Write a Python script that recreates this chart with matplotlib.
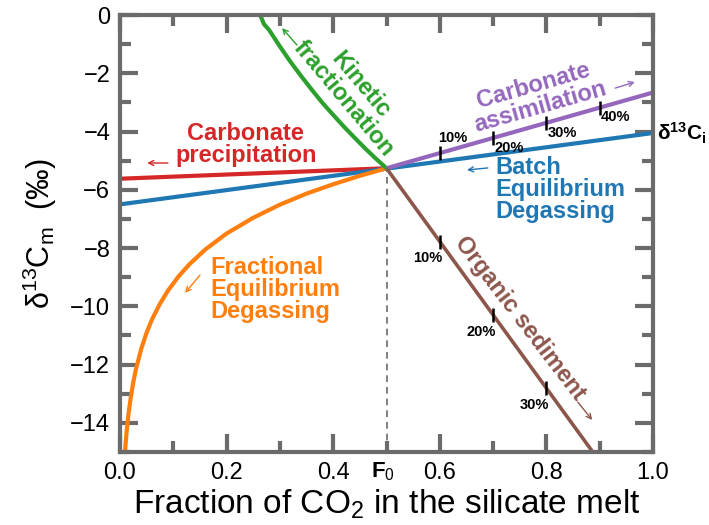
import numpy as np
import matplotlib
matplotlib.use('Agg')
import matplotlib.pyplot as plt
from matplotlib.ticker import MultipleLocator

plt.rcParams['font.family'] = ['Liberation Sans', 'DejaVu Sans']
plt.rcParams['mathtext.fontset'] = 'custom'
plt.rcParams['mathtext.rm'] = 'Liberation Sans'
plt.rcParams['mathtext.it'] = 'Liberation Sans:italic'
plt.rcParams['mathtext.bf'] = 'Liberation Sans:bold'

# values
f0 = 0.5
batch_x = [0.0, 1.0]
batch_y = [-6.5, -4.05]
precip_x = [0.0, 0.5]
precip_y = [-5.62, -5.26]
assim_x = [0.5, 1.0]
assim_y = [-5.26, -2.66]
organic_x = [0.5, 0.887]
organic_y = [-5.26, -15.0]
kinetic_x = [0.263, 0.27, 0.28, 0.29, 0.30, 0.32, 0.34, 0.36, 0.38, 0.40,
             0.42, 0.44, 0.46, 0.48, 0.50]
kinetic_y = [0.0, -0.31, -0.52, -0.80, -1.08, -1.61, -2.10, -2.57, -3.02, -3.43,
             -3.83, -4.21, -4.58, -4.93, -5.26]
frac_x = [0.0094, 0.011, 0.013, 0.016, 0.02, 0.025, 0.03, 0.04, 0.05, 0.06,
          0.075, 0.09, 0.11, 0.13, 0.16, 0.20, 0.25, 0.30, 0.35, 0.40, 0.45, 0.50]
frac_y = [-15.0, -14.61, -14.2, -13.69, -13.15, -12.6, -12.15, -11.45, -10.9, -10.45,
          -9.91, -9.46, -8.97, -8.56, -8.05, -7.5, -6.96, -6.51, -6.13, -5.81, -5.52, -5.26]

assim_pct_x = [0.6, 0.7, 0.8, 0.9]
assim_pct = ['10%', '20%', '30%', '40%']
organic_pct_x = [0.6, 0.7, 0.8]
organic_pct = ['10%', '20%', '30%']

red = '#d62728'
blue = '#1f77b4'
green = '#2ca02c'
orange = '#ff7f0e'
purple = '#9467bd'
brown = '#8c564b'
gray = '#6b6b6b'

fig = plt.figure(figsize=(7.09, 5.25), dpi=100)
ax = fig.add_axes([120/709, 1 - 452/525, 533/709, 437/525])

ax.plot(precip_x, precip_y, color=red, lw=3, solid_capstyle='butt')
ax.plot(batch_x, batch_y, color=blue, lw=3, solid_capstyle='butt')
ax.plot(frac_x, frac_y, color=orange, lw=3, solid_capstyle='butt')
ax.plot(kinetic_x, kinetic_y, color=green, lw=3, solid_capstyle='butt')
ax.plot(assim_x, assim_y, color=purple, lw=3, solid_capstyle='butt')
ax.plot(organic_x, organic_y, color=brown, lw=2.6, solid_capstyle='butt')

# F0 dashed line
ax.plot([f0, f0], [-15, assim_y[0]], color=gray, lw=1.2, ls=(0, (4, 3)))

# percent markers on the mixing lines
ay = np.interp(assim_pct_x, assim_x, assim_y)
ax.plot(assim_pct_x, ay, ls='none', marker='|', ms=10, mew=1.8, color='black')
for i, (x, y, t) in enumerate(zip(assim_pct_x, ay, assim_pct)):
    if i == 0:
        ax.annotate(t, (x, y), xytext=(-1, 6), textcoords='offset points',
                    ha='left', va='bottom', fontsize=10.5, fontweight='bold')
    else:
        ax.annotate(t, (x, y), xytext=(1, -2), textcoords='offset points',
                    ha='left', va='top', fontsize=10.5, fontweight='bold')
oy = np.interp(organic_pct_x, organic_x, organic_y)
ax.plot(organic_pct_x, oy, ls='none', marker='|', ms=10, mew=1.8, color='black')
for x, y, t in zip(organic_pct_x, oy, organic_pct):
    ax.annotate(t, (x, y), xytext=(2, -7), textcoords='offset points',
                ha='right', va='top', fontsize=10.5, fontweight='bold')

# curve labels
lab = dict(fontsize=17, fontweight='bold', linespacing=0.95)
ax.text(0.236, -4.46, 'Carbonate\nprecipitation', color=red, ha='center', va='center', **lab)
ax.text(0.435, -2.64, 'Kinetic\nfractionation', color=green, ha='center', va='center',
        rotation=-50, rotation_mode='anchor', multialignment='center', **lab)
ax.text(0.782, -2.78, 'Carbonate\nassimilation', color=purple, ha='center', va='center',
        rotation=16, rotation_mode='anchor', multialignment='center', **lab)
ax.text(0.704, -6.0, 'Batch\nEquilibrium\nDegassing', color=blue, ha='left', va='center', **lab)
ax.text(0.169, -9.41, 'Fractional\nEquilibrium\nDegassing', color=orange, ha='left', va='center', **lab)
ax.text(0.750, -10.4, 'Organic sediment', color=brown, ha='center', va='center',
        rotation=-52.5, rotation_mode='anchor', **lab)

def arrow(x0, y0, x1, y1, c):
    ax.annotate('', xy=(x1, y1), xytext=(x0, y0),
                arrowprops=dict(arrowstyle='->', color=c, lw=1, shrinkA=0, shrinkB=0,
                                mutation_scale=9))

arrow(0.090, -5.08, 0.051, -5.08, red)
arrow(0.332, -1.03, 0.304, -0.45, green)
arrow(0.929, -2.51, 0.966, -2.30, purple)
arrow(0.690, -5.25, 0.651, -5.32, blue)
arrow(0.150, -8.93, 0.122, -9.54, orange)
arrow(0.859, -13.29, 0.886, -13.9, brown)

ax.text(1.008, batch_y[1], r'$\mathbf{\delta^{13}C_i}$', transform=ax.transData,
        ha='left', va='center', fontsize=15, clip_on=False)
ax.text(f0 - 0.006, -15.28, r'$\mathbf{F}_0$', ha='center', va='top', fontsize=16, clip_on=False)

ax.set_xlim(0, 1)
ax.set_ylim(-15, 0)
ax.set_xticks([0, 0.2, 0.4, 0.6, 0.8, 1.0])
ax.set_xticklabels(['0.0', '0.2', '0.4', '0.6', '0.8', '1.0'])
ax.set_yticks(np.arange(-14, 1, 2))
ax.xaxis.set_minor_locator(MultipleLocator(0.1))
ax.yaxis.set_minor_locator(MultipleLocator(1))
ax.tick_params(which='both', direction='in', top=True, right=True, color=gray,
               labelsize=17, pad=7)
ax.tick_params(which='major', length=13, width=3)
ax.tick_params(which='minor', length=8, width=3)
for s in ax.spines.values():
    s.set_color(gray)
    s.set_linewidth(3)

ax.set_xlabel(r'Fraction of CO$_2$ in the silicate melt', fontsize=24, labelpad=3)
ax.set_ylabel(r'δ$^{13}$C$_\mathrm{m}$  (‰)', fontsize=22, labelpad=8)

fig.savefig('out.png', dpi=100)
